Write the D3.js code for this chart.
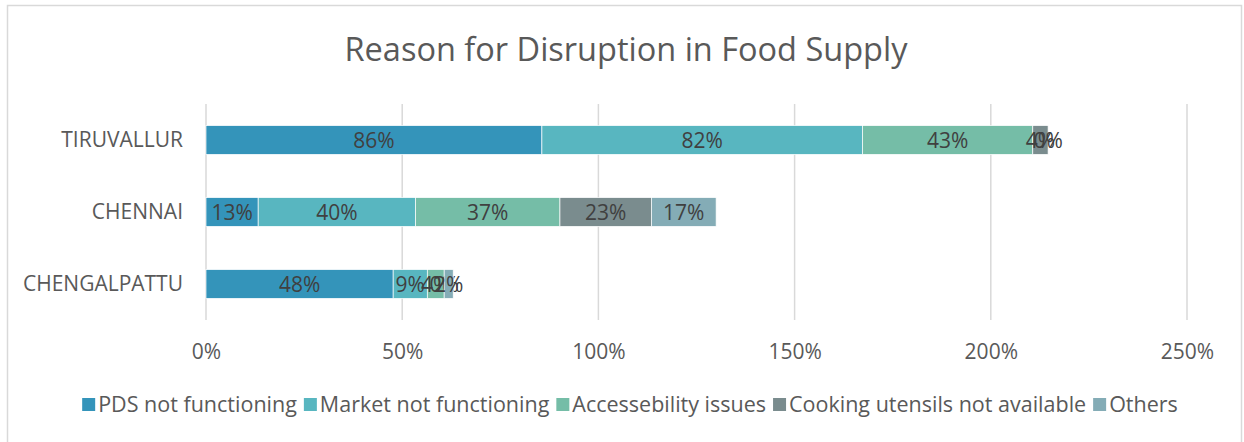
<!DOCTYPE html>
<html>
<head>
<meta charset="utf-8">
<script src="https://cdn.jsdelivr.net/npm/d3@7"></script>
<style>
  body { margin: 0; background: #fff; }
  svg { display: block; font-family: "Open Sans", sans-serif; }
</style>
</head>
<body>
<div id="chart"></div>
<script>
// data (percent)
var districts = ["TIRUVALLUR", "CHENNAI", "CHENGALPATTU"];
var reasons = ["PDS not functioning", "Market not functioning", "Accessebility issues", "Cooking utensils not available", "Others"];
var pds = [85.6, 13.3, 47.7];
var market = [81.7, 40.1, 8.7];
var access = [43.4, 36.8, 4.3];
var cooking = [3.9, 23.3, 0];
var others = [0, 16.5, 2.3];
var xTicks = [0, 50, 100, 150, 200, 250];
var colors = ["#3494ba", "#58b6c0", "#75bda7", "#7a8c8e", "#84acb6"];

var W = 1244, H = 442;
var margin = { top: 104, right: 57, bottom: 122, left: 206 },
    width = W - margin.left - margin.right,
    height = H - margin.top - margin.bottom;

var data = districts.map(function (d, i) {
    return { name: d, "PDS not functioning": pds[i], "Market not functioning": market[i],
             "Accessebility issues": access[i], "Cooking utensils not available": cooking[i], "Others": others[i] };
});

var x = d3.scaleLinear().domain([0, 250]).range([0, 981]);
var y = d3.scaleBand().domain(districts).range([0, height]).paddingInner(0.6).paddingOuter(0.3);
var z = d3.scaleOrdinal().domain(reasons).range(colors);

var svg = d3.select("#chart").append("svg")
    .attr("width", W)
    .attr("height", H);

svg.append("rect")
    .attr("x", 7.5).attr("y", 5.5)
    .attr("width", 1234).attr("height", 450)
    .attr("fill", "#fff")
    .attr("stroke", "#d9d9d9")
    .attr("stroke-width", 1.5);

svg.append("text")
    .attr("x", 626)
    .attr("y", 61)
    .attr("text-anchor", "middle")
    .attr("font-size", 32.5)
    .attr("fill", "#595959")
    .text("Reason for Disruption in Food Supply");

var g = svg.append("g")
    .attr("transform", "translate(" + margin.left + "," + margin.top + ")");

// gridlines
g.append("g")
    .selectAll("line")
    .data(xTicks)
    .enter().append("line")
    .attr("x1", function (d) { return x(d); })
    .attr("x2", function (d) { return x(d); })
    .attr("y1", 0)
    .attr("y2", height)
    .attr("stroke", "#d9d9d9")
    .attr("stroke-width", 1.5);

var series = d3.stack().keys(reasons)(data);

var layer = g.append("g")
    .selectAll("g")
    .data(series)
    .enter().append("g")
    .attr("fill", function (d) { return z(d.key); });

layer.selectAll("rect")
    .data(function (d) { return d; })
    .enter().append("rect")
    .attr("x", function (d) { return x(d[0]); })
    .attr("y", function (d) { return y(d.data.name); })
    .attr("width", function (d) { return x(d[1]) - x(d[0]); })
    .attr("height", y.bandwidth())
    .attr("stroke", "#fff")
    .attr("stroke-width", 0.7);

// data labels
layer.selectAll("text")
    .data(function (d) { return d; })
    .enter().append("text")
    .attr("x", function (d) { return (x(d[0]) + x(d[1])) / 2; })
    .attr("y", function (d) { return y(d.data.name) + y.bandwidth() / 2; })
    .attr("dy", "0.36em")
    .attr("text-anchor", "middle")
    .attr("font-size", 21)
    .attr("fill", "#404040")
    .text(function (d) { return Math.round(d[1] - d[0]) + "%"; });

// x axis labels
var xAxis = g.append("g")
    .attr("transform", "translate(0," + height + ")")
    .call(d3.axisBottom(x).tickValues(xTicks).tickSize(0).tickPadding(0).tickFormat(function (d) { return d + "%"; }));
xAxis.select(".domain").remove();
xAxis.selectAll("text")
    .attr("y", 39)
    .attr("dy", 0)
    .attr("font-size", 21)
    .attr("font-family", "Open Sans, sans-serif")
    .attr("fill", "#595959");

// y axis labels
var yAxis = g.append("g")
    .call(d3.axisLeft(y).tickSize(0).tickPadding(23));
yAxis.select(".domain").remove();
yAxis.selectAll("text")
    .attr("font-size", 21)
    .attr("font-family", "Open Sans, sans-serif")
    .attr("fill", "#595959");

// legend
var legend = svg.append("g")
    .attr("font-size", 21.5)
    .attr("fill", "#595959");

var items = legend.selectAll("g")
    .data(reasons)
    .enter().append("g");

items.append("rect")
    .attr("y", 398)
    .attr("width", 13)
    .attr("height", 13)
    .attr("fill", z);

items.append("text")
    .attr("x", 16)
    .attr("y", 412)
    .text(function (d) { return d; });

var pos = 0, offs = [];
items.each(function () {
    offs.push(pos);
    pos += 16 + this.querySelector("text").getComputedTextLength() + 7;
});
var start = 630 - (pos - 7) / 2;
items.attr("transform", function (d, i) { return "translate(" + (start + offs[i]) + ",0)"; });
</script>
</body>
</html>
